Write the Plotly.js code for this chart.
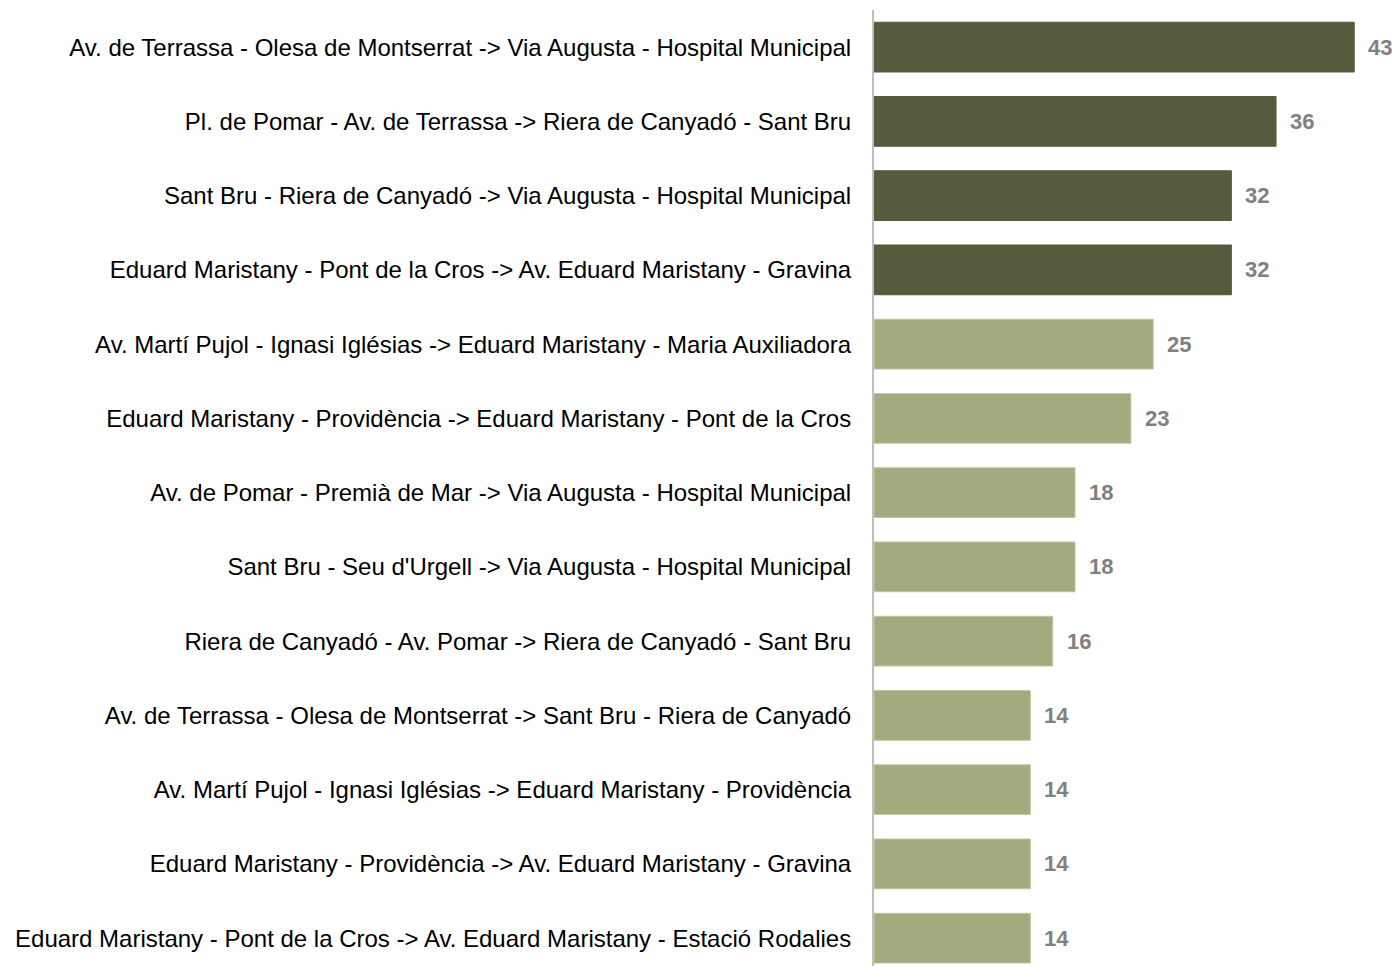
<!DOCTYPE html>
<html>
<head>
<meta charset="utf-8">
<script src="https://cdn.plot.ly/plotly-3.0.1.min.js"></script>
<style>html,body{margin:0;padding:0;background:#fff;}#chart{width:1400px;height:966px;}</style>
</head>
<body>
<div id="chart"></div>
<script>
var routes = [
  "Av. de Terrassa - Olesa de Montserrat -> Via Augusta - Hospital Municipal",
  "Pl. de Pomar - Av. de Terrassa -> Riera de Canyadó - Sant Bru",
  "Sant Bru - Riera de Canyadó -> Via Augusta - Hospital Municipal",
  "Eduard Maristany - Pont de la Cros -> Av. Eduard Maristany - Gravina",
  "Av. Martí Pujol - Ignasi Iglésias -> Eduard Maristany - Maria Auxiliadora",
  "Eduard Maristany - Providència -> Eduard Maristany - Pont de la Cros",
  "Av. de Pomar - Premià de Mar -> Via Augusta - Hospital Municipal",
  "Sant Bru - Seu d'Urgell -> Via Augusta - Hospital Municipal",
  "Riera de Canyadó - Av. Pomar -> Riera de Canyadó - Sant Bru",
  "Av. de Terrassa - Olesa de Montserrat -> Sant Bru - Riera de Canyadó",
  "Av. Martí Pujol - Ignasi Iglésias -> Eduard Maristany - Providència",
  "Eduard Maristany - Providència -> Av. Eduard Maristany - Gravina",
  "Eduard Maristany - Pont de la Cros -> Av. Eduard Maristany - Estació Rodalies"
];
var counts = [43, 36, 32, 32, 25, 23, 18, 18, 16, 14, 14, 14, 14];
var highlighted = [true, true, true, true, false, false, false, false, false, false, false, false, false];

var darkColor = "#555b3d";
var lightColor = "#a3aa7e";
var barColors = highlighted.map(function(h){ return h ? darkColor : lightColor; });
var lineColors = highlighted.map(function(h){ return h ? darkColor : "#c2c7a5"; });

var trace = {
  type: "bar",
  orientation: "h",
  y: routes,
  x: counts,
  marker: {color: barColors, line: {color: lineColors, width: 1}},
  hoverinfo: "none"
};

var annotations = counts.map(function(v, i){
  return {
    x: v, y: routes[i], xref: "x", yref: "y",
    text: String(v), showarrow: false,
    xanchor: "left", yanchor: "middle", xshift: 12,
    font: {family: "Liberation Sans, Arial, sans-serif", size: 22, color: "#808080", weight: "bold"}
  };
});

var layout = {
  width: 1400, height: 966,
  margin: {l: 874, r: 0, t: 10, b: 0, pad: 0},
  paper_bgcolor: "#fff", plot_bgcolor: "#fff",
  showlegend: false,
  bargap: 0.33,
  font: {family: "Liberation Sans, Arial, sans-serif", size: 24, color: "#000"},
  xaxis: {range: [0, 47.1], showgrid: false, zeroline: false, showticklabels: false, showline: false, fixedrange: true},
  yaxis: {
    type: "category",
    range: [12.375, -0.5],
    showgrid: false, zeroline: false,
    showline: true, linecolor: "#bfbfbf", linewidth: 2,
    ticks: "", ticklabelstandoff: 16,
    tickfont: {family: "Liberation Sans, Arial, sans-serif", size: 24, color: "#000"},
    automargin: false
  },
  annotations: annotations
};

Plotly.newPlot("chart", [trace], layout, {displayModeBar: false, staticPlot: true});
</script>
</body>
</html>
